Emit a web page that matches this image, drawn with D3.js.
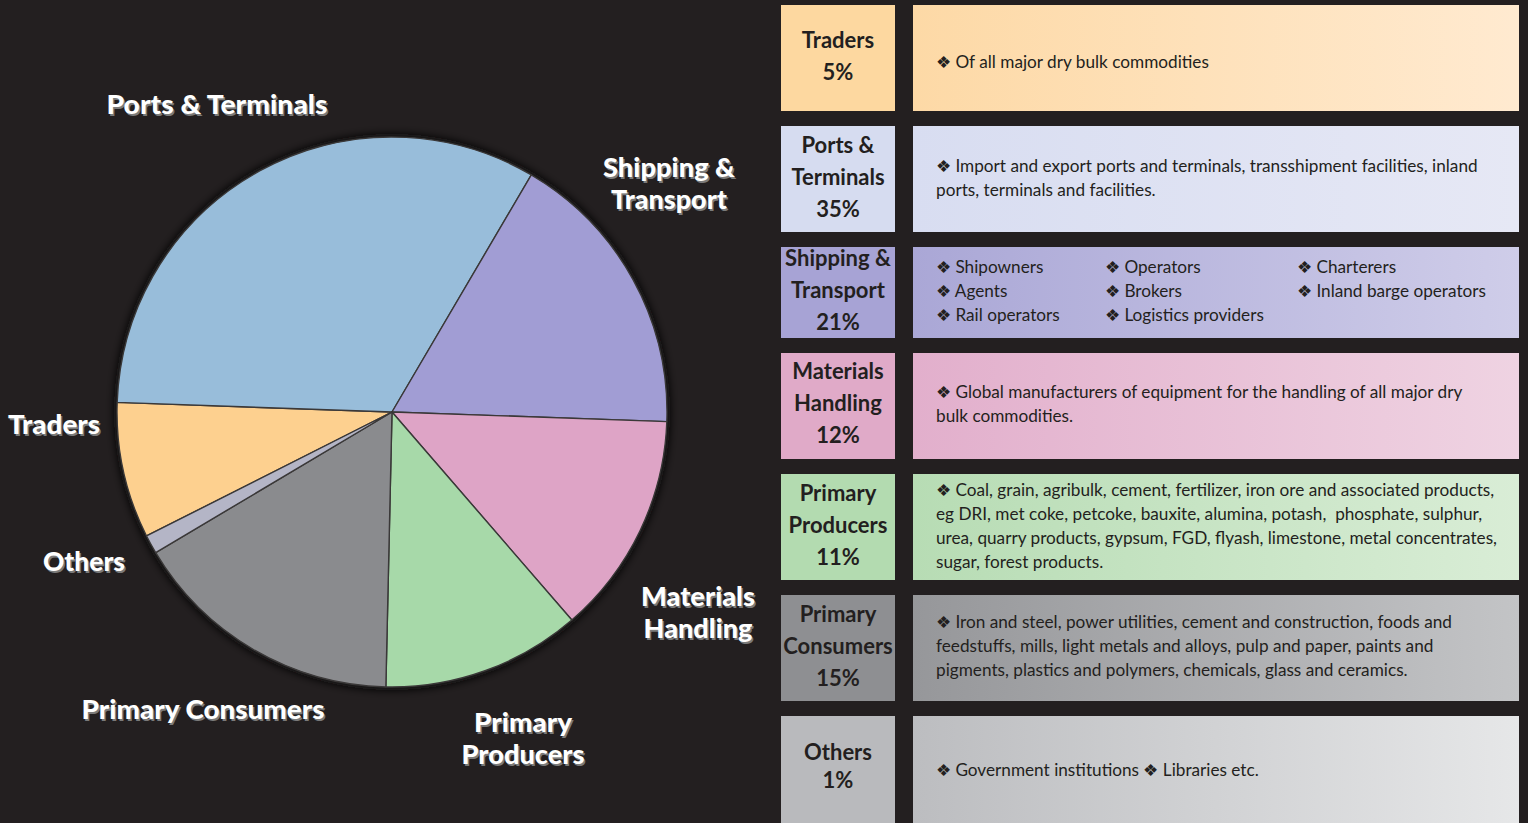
<!DOCTYPE html>
<html lang="en">
<head>
    <meta charset="UTF-8">
    <script src="https://d3js.org/d3.v7.min.js"></script>
    <style>
        body {
            margin: 0;
            background-color: #231f20;
            font-family: Lato, "Open Sans", sans-serif;
        }
        svg { display: block; }
    </style>
</head>
<body>
    <div id="chart"></div>

    <script>
        // segments, clockwise on the pie starting from Traders
        const segments = ["Traders", "Ports & Terminals", "Shipping & Transport", "Materials Handling",
                          "Primary Producers", "Primary Consumers", "Others"];
        // percentages printed in the table
        const tablePct = [5, 35, 21, 12, 11, 15, 1];
        // slice sizes as drawn in the pie
        const sliceShare = [8.0, 32.9, 17.1, 13.1, 11.7, 16.1, 1.1];

        // table label lines (left boxes)
        const boxLabels = [
            ["Traders"],
            ["Ports &", "Terminals"],
            ["Shipping &", "Transport"],
            ["Materials", "Handling"],
            ["Primary", "Producers"],
            ["Primary", "Consumers"],
            ["Others"]
        ];

        // description lines (right boxes)
        const descriptions = [
            ["\u2756 Of all major dry bulk commodities"],
            ["\u2756 Import and export ports and terminals, transshipment facilities, inland",
             "ports, terminals and facilities."],
            null,
            ["\u2756 Global manufacturers of equipment for the handling of all major dry",
             "bulk commodities."],
            ["\u2756 Coal, grain, agribulk, cement, fertilizer, iron ore and associated products,",
             "eg DRI, met coke, petcoke, bauxite, alumina, potash,  phosphate, sulphur,",
             "urea, quarry products, gypsum, FGD, flyash, limestone, metal concentrates,",
             "sugar, forest products."],
            ["\u2756 Iron and steel, power utilities, cement and construction, foods and",
             "feedstuffs, mills, light metals and alloys, pulp and paper, paints and",
             "pigments, plastics and polymers, chemicals, glass and ceramics."],
            ["\u2756 Government institutions \u2756 Libraries etc."]
        ];
        // shipping row is laid out in three columns
        const shippingColumns = [
            ["\u2756 Shipowners", "\u2756 Agents", "\u2756 Rail operators"],
            ["\u2756 Operators", "\u2756 Brokers", "\u2756 Logistics providers"],
            ["\u2756 Charterers", "\u2756 Inland barge operators"]
        ];

        // colours
        const pieColors = ["#fdd08f", "#98bdda", "#a19dd4", "#dea4c6", "#a7d9a9", "#8a8b8e", "#b4b5c6"];
        const boxColors = ["#fdd8a0", "#d6dcf0", "#a7a3d5", "#e0aac8", "#b3dbb0", "#8e8f92", "#b9babd"];
        const gradLeft  = ["#fdd9a6", "#d8ddf1", "#aaa7d6", "#e2afcc", "#b7dcb4", "#96979a", "#bcbdc0"];
        const gradRight = ["#ffead0", "#e6e8f5", "#cfcde9", "#efd3e2", "#d9edd6", "#c3c4c6", "#e6e7e8"];

        // pie label layout (centre x, first baseline y)
        const pieLabels = [
            { lines: ["Traders"], x: 54, y: 434, w: [92] },
            { lines: ["Ports & Terminals"], x: 217, y: 114, w: [221] },
            { lines: ["Shipping &", "Transport"], x: 669, y: 177, w: [132, 116] },
            { lines: ["Materials", "Handling"], x: 698, y: 606, w: [114, 109] },
            { lines: ["Primary", "Producers"], x: 523, y: 732, w: [98, 123] },
            { lines: ["Primary Consumers"], x: 203, y: 719, w: [243] },
            { lines: ["Others"], x: 84, y: 571, w: [82] }
        ];

        const W = 1528, H = 823;
        const svg = d3.select("#chart").append("svg")
            .attr("width", W).attr("height", H);

        svg.append("rect").attr("width", W).attr("height", H).attr("fill", "#231f20");

        const defs = svg.append("defs");
        segments.forEach((s, i) => {
            const g = defs.append("linearGradient").attr("id", "grad" + i)
                .attr("x1", "0%").attr("x2", "100%").attr("y1", "0%").attr("y2", "0%");
            g.append("stop").attr("offset", "0%").attr("stop-color", gradLeft[i]);
            g.append("stop").attr("offset", "100%").attr("stop-color", gradRight[i]);
        });
        const blur = defs.append("filter").attr("id", "halo")
            .attr("x", "-10%").attr("y", "-10%").attr("width", "120%").attr("height", "120%");
        blur.append("feGaussianBlur").attr("stdDeviation", 4);

        // ---- pie ----
        const cx = 392, cy = 412, R = 275;
        const startA = 243.2 * Math.PI / 180;
        const pie = d3.pie().sort(null).value(d => d)
            .startAngle(startA).endAngle(startA + 2 * Math.PI);
        const arc = d3.arc().innerRadius(0).outerRadius(R);

        const pg = svg.append("g").attr("transform", `translate(${cx},${cy})`);
        pg.append("circle").attr("r", R + 3).attr("fill", "#0e0c0c").attr("filter", "url(#halo)");

        pg.selectAll(".slice")
            .data(pie(sliceShare))
            .enter()
            .append("path")
            .attr("class", "slice")
            .attr("d", arc)
            .attr("fill", (d, i) => pieColors[i])
            .attr("stroke", "#3a3838")
            .attr("stroke-width", 1.4)
            .attr("stroke-linejoin", "round");

        // pie labels: white with grey drop shadow
        pieLabels.forEach(lab => {
            lab.lines.forEach((t, j) => {
                [["#7a7a7a", 1.5], ["#ffffff", 0]].forEach(([col, off]) => {
                    svg.append("text")
                        .attr("x", lab.x + off)
                        .attr("y", lab.y + j * 32 + off)
                        .attr("text-anchor", "middle")
                        .attr("textLength", lab.w[j])
                        .attr("lengthAdjust", "spacingAndGlyphs")
                        .style("font-size", "27px")
                        .style("font-weight", 900)
                        .style("fill", col)
                        .text(t);
                });
            });
        });

        // ---- table ----
        const rowTop = [5, 126, 247, 353, 474, 595, 716];
        const rowH   = [106, 106, 91, 106, 106, 106, 107];
        const boxX0 = 781, boxX1 = 895, descX0 = 913, descX1 = 1519;
        const boxFirstBase = [48, 153, 266, 379, 501, 622, 760];
        const descFirstBase = [68, 172, 273, 398, 496, 628, 776];

        const rows = svg.selectAll(".row")
            .data(segments)
            .enter()
            .append("g")
            .attr("class", "row");

        rows.append("rect")
            .attr("x", boxX0).attr("y", (d, i) => rowTop[i])
            .attr("width", boxX1 - boxX0).attr("height", (d, i) => rowH[i])
            .attr("fill", (d, i) => boxColors[i]);

        rows.append("rect")
            .attr("x", descX0).attr("y", (d, i) => rowTop[i])
            .attr("width", descX1 - descX0).attr("height", (d, i) => rowH[i])
            .attr("fill", (d, i) => `url(#grad${i})`);

        rows.each(function (d, i) {
            const g = d3.select(this);
            const lines = boxLabels[i].concat([tablePct[i] + "%"]);
            lines.forEach((t, j) => {
                g.append("text")
                    .attr("x", (boxX0 + boxX1) / 2)
                    .attr("y", boxFirstBase[i] + j * (i === 6 ? 28 : 32))
                    .attr("text-anchor", "middle")
                    .style("font-size", "22px")
                    .style("font-weight", 700)
                    .style("fill", "#231f20")
                    .text(t);
            });

            if (descriptions[i]) {
                descriptions[i].forEach((t, j) => {
                    g.append("text")
                        .attr("x", 936)
                        .attr("y", descFirstBase[i] + j * 24)
                        .style("font-size", "17.2px")
                        .style("fill", "#231f20")
                        .style("white-space", "pre")
                        .text(t);
                });
            } else {
                const colX = [936, 1105, 1297];
                shippingColumns.forEach((col, c) => {
                    col.forEach((t, j) => {
                        g.append("text")
                            .attr("x", colX[c])
                            .attr("y", descFirstBase[i] + j * 24)
                            .style("font-size", "17.2px")
                            .style("fill", "#231f20")
                            .text(t);
                    });
                });
            }
        });
    </script>
</body>
</html>
